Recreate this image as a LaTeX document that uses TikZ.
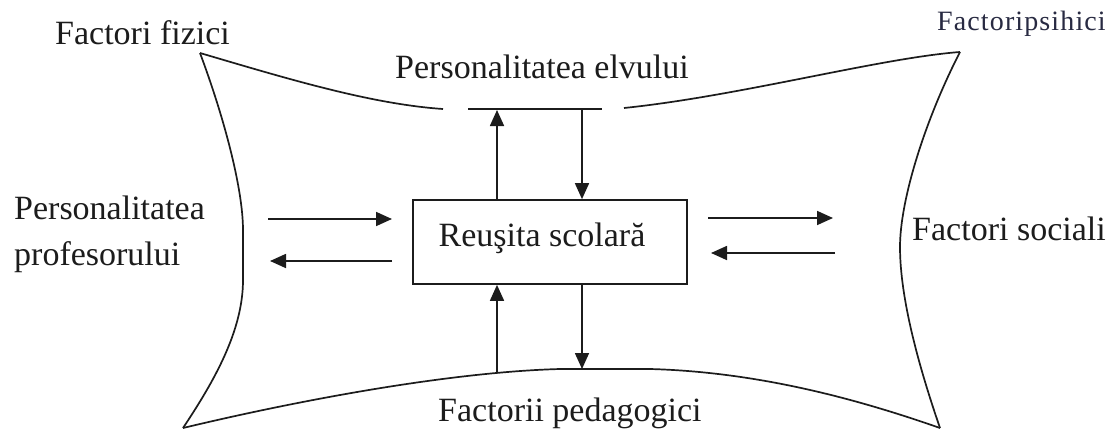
\documentclass[tikz,border=0pt]{standalone}
\usepackage{fontspec}
\setmainfont{Liberation Serif}
\newfontfamily\psifont[LetterSpace=4]{Liberation Serif}
\usetikzlibrary{arrows.meta}
\definecolor{ink}{RGB}{28,28,28}
\definecolor{psiblue}{RGB}{40,42,66}
\begin{document}
\begin{tikzpicture}[x=1pt,y=-1pt,
  lbl/.style={font=\fontsize{34}{46}\selectfont, inner sep=0pt, anchor=base west, text=ink},
  outline/.style={draw=ink, line width=1.7pt},
  conn/.style={draw=ink, line width=1.7pt, -{Triangle[length=16pt,width=14pt]}},
  resbox/.style={draw=ink, line width=1.7pt, minimum width=274pt, minimum height=84pt, inner sep=0pt}]
\useasboundingbox (0,0) rectangle (1116,431);
\fill[white] (0,0) rectangle (1116,431);

% outline of the field
\draw[outline] (200,53) .. controls (285,78) and (370,104) .. (443,109);
\draw[outline] (468,109) -- (602,109);
\draw[outline] (624,108) .. controls (740,96) and (880,58) .. (960,52);
\draw[outline] (200,53) .. controls (225,120) and (243,190) .. (243,230) -- (243,280)
   .. controls (243,330) and (215,380) .. (183,428);
\draw[outline] (960,52) .. controls (925,120) and (900,200) .. (900,247)
   .. controls (900,300) and (920,370) .. (940,428);
\draw[outline] (183,428) .. controls (300,400) and (450,372) .. (560,369) -- (650,369)
   .. controls (760,372) and (860,400) .. (940,428);

% central box
\node[resbox] (rs) at (550,242) {};
\node[lbl, anchor=base] (rst) at (542,246) {Reuşita scolară};

% labels
\node[lbl] (ff) at (55,44) {Factori fizici};
\node[lbl] (pe) at (395,78) {Personalitatea elvului};
\node[lbl, font=\psifont\fontsize{28}{32}\selectfont, text=psiblue] (fp) at (937,30) {Factoripsihici};
\node[lbl, anchor=north west, align=left] (pp) at (14,196) {Personalitatea\\profesorului};
\node[lbl] (fs) at (912,240) {Factori sociali};
\node[lbl] (fpd) at (438,421) {Factorii pedagogici};

% arrow ends
\coordinate (tU) at (497,110);
\coordinate (tD) at (582,109);
\coordinate (bU) at (497,373);
\coordinate (bD) at (582,369);
\coordinate (lA1) at (268,219); \coordinate (lA2) at (392,219);
\coordinate (lB1) at (392,261); \coordinate (lB2) at (270,261);
\coordinate (rA1) at (708,218); \coordinate (rA2) at (833,218);
\coordinate (rB1) at (835,253); \coordinate (rB2) at (711,253);

% arrows
\draw[conn] (rs.north -| tU) -- (tU);
\draw[conn] (tD) -- (rs.north -| tD);
\draw[conn] (bU) -- (rs.south -| bU);
\draw[conn] (rs.south -| bD) -- (bD);
\draw[conn] (lA1) -- (lA2);
\draw[conn] (lB1) -- (lB2);
\draw[conn] (rA1) -- (rA2);
\draw[conn] (rB1) -- (rB2);
\end{tikzpicture}
\end{document}
